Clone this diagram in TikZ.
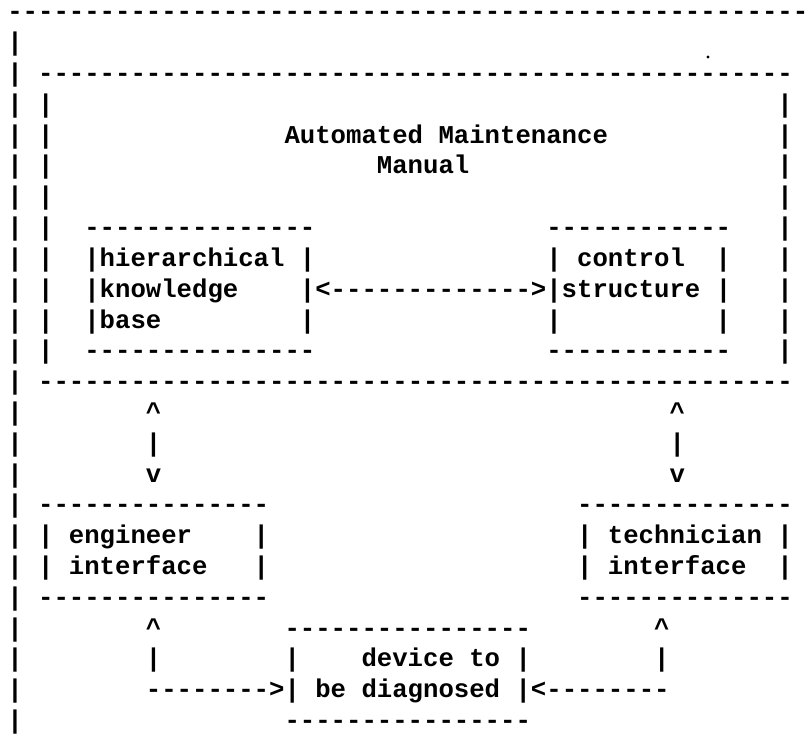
\documentclass[tikz,border=0pt]{standalone}
\usepackage{fontspec}
\setmonofont{Liberation Mono}
\ExplSyntaxOn
\cs_new:Npn \mydashrun #1 { \prg_replicate:nn {#1} {-} }
\ExplSyntaxOff
\tikzset{
  ascii/.style={inner sep=0pt, outer sep=0pt, anchor=base west,
    font=\ttfamily\bfseries\fontsize{25.67}{30.8}\selectfont}
}
% name, column, row, text
\newcommand\txt[4]{\node[ascii] (#1) at ({7.3+15.4*#2},{-(20+30.8*#3)}) {#4};}
\begin{document}
\begin{tikzpicture}[x=1pt,y=1pt]
\fill[white] (0,0) rectangle (810,-751);
\useasboundingbox (0,0) rectangle (810,-751);

% outer frame
\txt{outertop}{0}{0}{\mydashrun{52}}
\foreach \r in {1,...,23} {\txt{outer\r}{0}{\r}{|}}
\fill[black] (708,-57) circle (1.7);

% Automated Maintenance Manual box
\txt{amtop}{2}{2}{\mydashrun{49}}
\foreach \r in {3,...,11} {\txt{amL\r}{2}{\r}{|}\txt{amR\r}{50}{\r}{|}}
\txt{amtitle}{18}{4}{Automated Maintenance}
\txt{amtitleb}{24}{5}{Manual}
\txt{ambottom}{2}{12}{\mydashrun{49}}

% hierarchical knowledge base
\txt{hkbtop}{5}{7}{\mydashrun{15}}
\txt{hkba}{5}{8}{|hierarchical |}
\txt{hkbb}{5}{9}{|knowledge}
\txt{hkbc}{5}{10}{|base}
\txt{hkbcr}{19}{10}{|}
\txt{hkbbottom}{5}{11}{\mydashrun{15}}

% arrow + control structure
\txt{arrowcs}{19}{9}{|<\mydashrun{13}>|structure |}
\txt{cstop}{35}{7}{\mydashrun{12}}
\txt{csa}{35}{8}{| control}
\txt{csar}{46}{8}{|}
\txt{csc}{35}{10}{|}
\txt{cscr}{46}{10}{|}
\txt{csbottom}{35}{11}{\mydashrun{12}}

% vertical double arrows
\txt{lup}{9}{13}{\textasciicircum}
\txt{lbar}{9}{14}{|}
\txt{ldown}{9}{15}{v}
\txt{rup}{43}{13}{\textasciicircum}
\txt{rbar}{43}{14}{|}
\txt{rdown}{43}{15}{v}

% engineer interface
\txt{engtop}{2}{16}{\mydashrun{15}}
\txt{enga}{2}{17}{| engineer}
\txt{engar}{16}{17}{|}
\txt{engb}{2}{18}{| interface}
\txt{engbr}{16}{18}{|}
\txt{engbottom}{2}{19}{\mydashrun{15}}

% technician interface
\txt{techtop}{37}{16}{\mydashrun{14}}
\txt{techa}{37}{17}{| technician |}
\txt{techb}{37}{18}{| interface}
\txt{techbr}{50}{18}{|}
\txt{techbottom}{37}{19}{\mydashrun{14}}

% device to be diagnosed
\txt{devtop}{18}{20}{\mydashrun{16}}
\txt{dleftup}{9}{20}{\textasciicircum}
\txt{drightup}{42}{20}{\textasciicircum}
\txt{dleftbar}{9}{21}{|}
\txt{devl}{18}{21}{|}
\txt{deva}{23}{21}{device to |}
\txt{drightbar}{42}{21}{|}
\txt{devb}{9}{22}{\mydashrun{8}>| be diagnosed |<\mydashrun{8}}
\txt{devbottom}{18}{23}{\mydashrun{16}}
\end{tikzpicture}
\end{document}
